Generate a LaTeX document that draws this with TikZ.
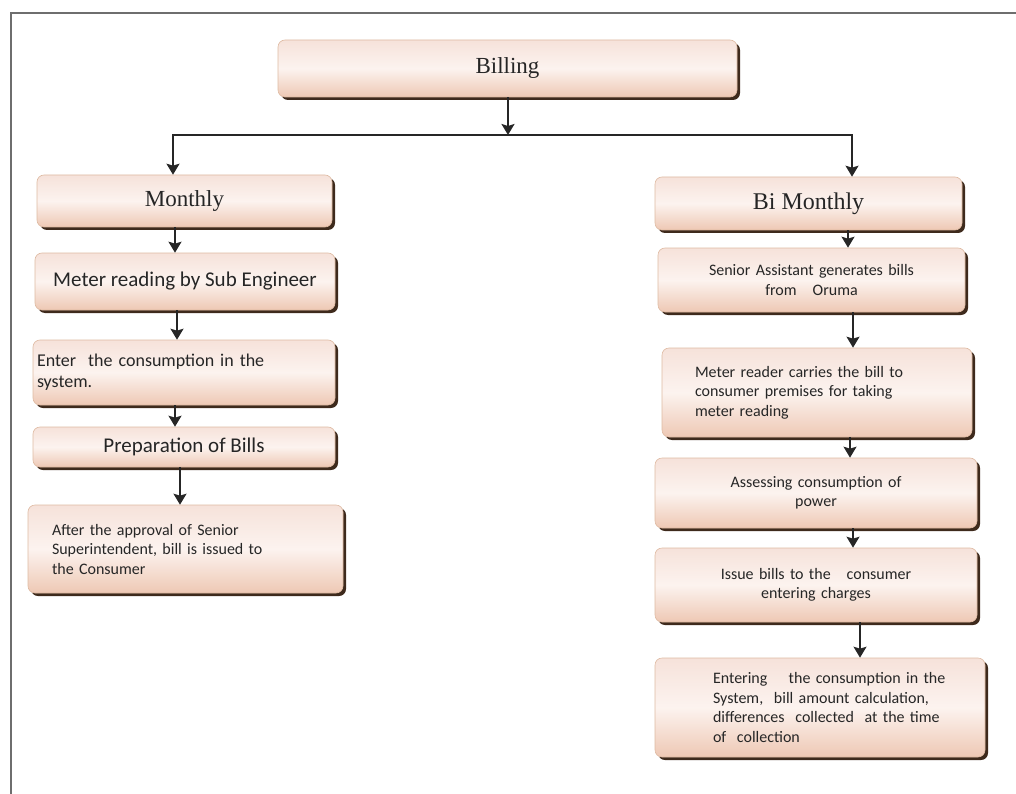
\documentclass[tikz,border=0pt]{standalone}
\usepackage{fontspec}
\setmainfont{Carlito}
\newfontfamily\timesf{Liberation Serif}
\usetikzlibrary{shadows,arrows.meta}
\definecolor{boxtop}{RGB}{246,226,218}
\definecolor{boxmid}{RGB}{252,243,239}
\definecolor{boxbot}{RGB}{238,200,180}
\definecolor{boxline}{RGB}{222,186,162}
\definecolor{shadowc}{RGB}{62,42,28}
\definecolor{framec}{RGB}{110,110,110}
\begin{document}
\begin{tikzpicture}[x=1pt, y=-1pt, >={Stealth[length=11pt,width=13pt,inset=2pt]}]
      \tikzstyle{box}=[draw=boxline, line width=0.6pt, rounded corners=7pt, top color=boxtop, bottom color=boxbot, middle color=boxmid, drop shadow={shadow xshift=3pt, shadow yshift=-3pt, fill=shadowc, opacity=1}, text=black!85, inner ysep=2pt]
      \tikzstyle{big}=[font=\timesf\fontsize{23}{27}\selectfont]
      \tikzstyle{mid}=[font=\fontsize{21}{25}\selectfont]
      \tikzstyle{small}=[font=\fontsize{16}{19.5}\selectfont]
      \tikzstyle{line}=[line width=1.8pt, black!85]

      \useasboundingbox (0,0) rectangle (1016,794);
      \draw [framec, line width=1.5pt] (11,794) -- (11,13) -- (1016,13);

      % draw boxes

      \node [box, big, minimum width=459pt, minimum height=57pt] (bil) at (507.5,68.5) {Billing};

      \node [box, big, minimum width=295pt, minimum height=52pt] (mon) at (184.5,201) {Monthly};
      \node [box, mid, minimum width=300pt, minimum height=57pt] (mrd) at (185,281.5) {Meter reading by Sub Engineer};
      \node [box, font=\fontsize{18}{21}\selectfont, minimum height=65pt, inner xsep=4pt, text width=294pt, align=left] (ent) at (184,372.5) {Enter\ \ the consumption in the\\system.};
      \node [box, mid, minimum width=302pt, minimum height=40pt] (prep) at (184,447) {Preparation of Bills};
      \node [box, small, minimum height=88pt, inner xsep=24pt, text width=267pt, align=left] (aft) at (185.5,549) {After the approval of Senior\\Superintendent, bill is issued to\\the Consumer};

      \node [box, big, font=\timesf\fontsize{24}{28}\selectfont, minimum width=307pt, minimum height=53pt] (bim) at (808.5,203.5) {Bi\ Monthly};
      \node [box, small, minimum height=64pt, inner xsep=8pt, text width=291pt, align=center] (sen) at (811.5,280) {Senior Assistant generates bills\\from\quad Oruma};
      \node [box, small, minimum height=89pt, inner xsep=33pt, text width=244pt, align=left] (mtr) at (817,392.5) {Meter reader carries the bill to\\consumer premises for taking\\meter reading};
      \node [box, small, minimum height=70pt, inner xsep=8pt, text width=306pt, align=center] (ass) at (816,493) {Assessing consumption of\\power};
      \node [box, small, minimum height=74pt, inner xsep=8pt, text width=306pt, align=center] (iss) at (816,585) {Issue bills to the\quad consumer\\entering charges};
      \node [box, small, minimum height=99pt, inner xsep=36pt, text width=258pt, align=left] (etr) at (820,707.5) {\leftskip=22pt Entering\quad\ the consumption in the\\System,\ \ bill amount calculation,\\differences\ \ collected\ \ at the time\\of\ \ collection\par};

      % draw lines

      \coordinate (split) at (508,135);
      \draw [line, ->] (bil.south -| split) -- (split);
      \draw [line, ->] (split) -| (mon.north -| 173,0);
      \draw [line, ->] (split) -| (bim.north -| 852,0);

      \foreach \a/\b/\x in {mon/mrd/175, mrd/ent/177, ent/prep/175, prep/aft/180, bim/sen/848, sen/mtr/853, mtr/ass/850, ass/iss/853, iss/etr/860}
      \draw [line, ->] (\a.south -| \x,0) -- (\b.north -| \x,0);

\end{tikzpicture}
\end{document}
